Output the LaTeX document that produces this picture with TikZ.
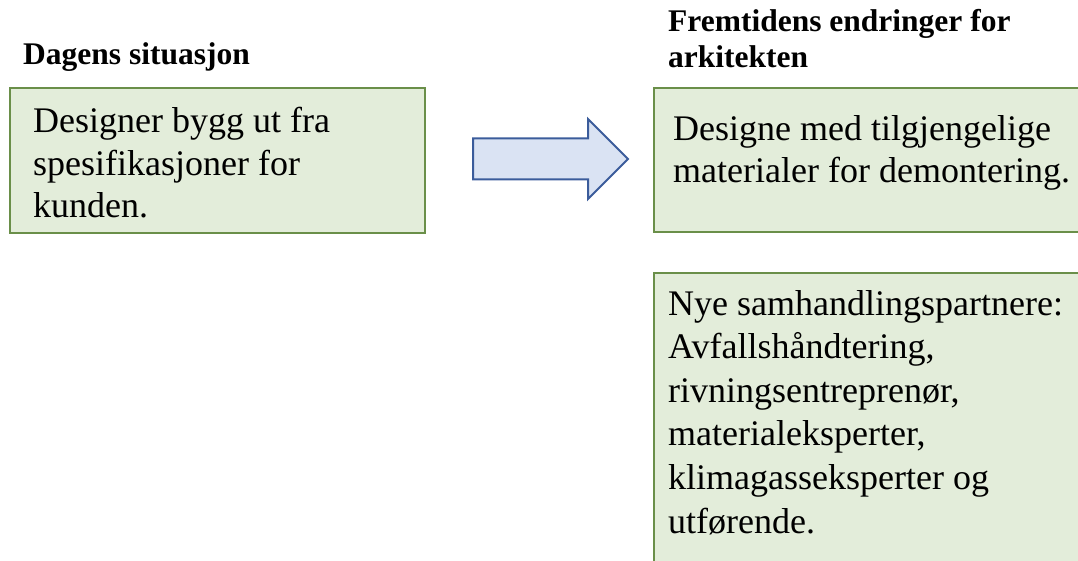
\documentclass[tikz,border=0pt]{standalone}
\usepackage{fontspec}
\setmainfont{Liberation Serif}
\usetikzlibrary{shapes.arrows}
\definecolor{boksfyll}{HTML}{E3EDDA}
\definecolor{bokskant}{HTML}{6A8F49}
\definecolor{pilfyll}{HTML}{DAE3F3}
\definecolor{pilkant}{HTML}{3B5C9B}
\tikzset{boks/.style={draw=bokskant,fill=boksfyll,line width=2pt,inner sep=0pt,anchor=north west}}
\tikzset{tekst/.style={inner sep=0pt,anchor=base west,align=left,font=\fontsize{36}{42.5}\selectfont}}
\tikzset{overskrift/.style={inner sep=0pt,anchor=base west,align=left,font=\fontsize{31.5}{36}\selectfont\bfseries}}
\tikzset{pil/.style={single arrow,draw=pilkant,fill=pilfyll,line width=2pt,inner xsep=0pt,inner ysep=19.5pt,minimum height=155pt,single arrow head extend=19.5pt,single arrow tip angle=90,anchor=tail}}

\begin{document}
\begin{tikzpicture}
  \path[use as bounding box,clip] (0,0) rectangle (1078pt,-561pt);
  % bokser
  \node[boks,minimum width=415.5pt,minimum height=145pt] (idag) at (8.5pt,-87pt) {};
  \node[boks,minimum width=450pt,minimum height=144pt] (framtid) at (653pt,-87pt) {};
  \node[boks,minimum width=450pt,minimum height=330pt] (partnere) at (653pt,-272pt) {};
  % overskrifter (base = siste linje)
  \node[overskrift] (idagtittel) at (23pt,-65pt) {Dagens situasjon};
  \node[overskrift] (framtidtittel) at (668pt,-68pt) {Fremtidens endringer for\\arkitekten};
  % tekster
  \node[tekst] (idagtekst) at (33pt,-218pt) {Designer bygg ut fra\\spesifikasjoner for\\kunden.};
  \node[tekst] (framtidtekst) at (673pt,-183pt) {Designe med tilgjengelige\\materialer for demontering.};
  \node[tekst,font=\fontsize{36}{43.6}\selectfont] (partneretekst) at (668pt,-533pt) {Nye samhandlingspartnere:\\Avfallshåndtering,\\rivningsentreprenør,\\materialeksperter,\\klimagasseksperter og\\utførende.};
  % pil
  \node[pil] (pil) at (472pt,-159pt) {};
\end{tikzpicture}
\end{document}
